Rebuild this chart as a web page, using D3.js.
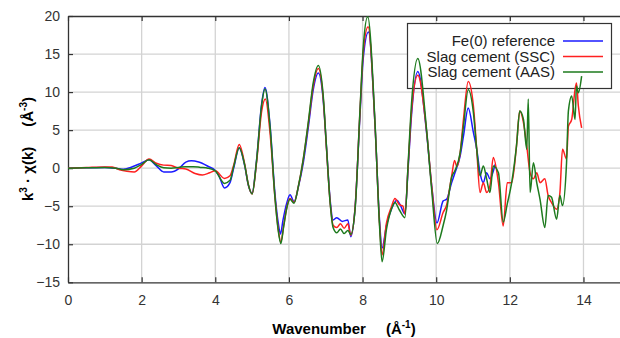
<!DOCTYPE html>
<html>
<head>
<meta charset="utf-8">
<script src="https://cdn.jsdelivr.net/npm/d3@7"></script>
<style>
  html, body { margin: 0; padding: 0; background: #fff; }
  svg { display: block; font-family: 'Liberation Sans', Arial, sans-serif; }
</style>
</head>
<body>
<div id="chart"></div>
<script>
// EXAFS k^3-weighted spectra
const feK = [0, 0.5, 1.0, 1.3, 1.5, 1.7, 2.0, 2.2, 2.4, 2.6, 2.8, 3.0, 3.2, 3.35, 3.55, 3.8, 4.0, 4.1, 4.25, 4.4, 4.5, 4.65, 4.8, 4.9, 5.0, 5.12, 5.26, 5.35, 5.49, 5.62, 5.71, 5.77, 5.84, 5.94, 6.03, 6.14, 6.26, 6.39, 6.53, 6.66, 6.8, 6.93, 7.02, 7.12, 7.2, 7.3, 7.45, 7.6, 7.68, 7.8, 7.93, 8.02, 8.16, 8.34, 8.46, 8.53, 8.65, 8.79, 8.93, 9.02, 9.15, 9.24, 9.33, 9.5, 9.74, 9.88, 10.02, 10.19, 10.28, 10.42, 10.51, 10.65, 10.74, 10.87, 11.01, 11.1, 11.19, 11.28, 11.37, 11.46, 11.6]
const feV = [0, 0.05, 0.08, -0.02, -0.15, 0.1, 0.7, 1.1, 0.3, -0.5, -0.5, -0.1, 0.8, 0.97, 0.8, 0.25, -0.3, -1.0, -2.6, -1.9, 0.0, 2.7, 0.3, -2.3, -3.3, 1.0, 8.5, 10.6, 5.5, -3.3, -7.2, -8.65, -6.8, -4.6, -3.5, -4.4, -2.4, 0.7, 5.5, 10.3, 12.5, 9.0, 2.8, -4.2, -6.8, -6.5, -7.0, -6.8, -9.0, -5.0, 7.0, 14.5, 17.9, 5.5, -6.8, -10.5, -7.5, -5.3, -4.2, -4.8, -6.0, 0.2, 7.0, 12.7, 4.6, -2.4, -7.2, -4.3, -4.1, -1.9, -0.6, 1.6, 4.2, 7.9, 4.7, 2.5, -0.6, -1.9, -0.6, -1.4, 0.5]

const sscK = [0, 0.5, 1.0, 1.2, 1.4, 1.6, 1.8, 2.0, 2.2, 2.4, 2.6, 2.8, 3.0, 3.2, 3.45, 3.65, 3.85, 4.0, 4.25, 4.4, 4.5, 4.65, 4.8, 4.9, 5.0, 5.12, 5.26, 5.36, 5.49, 5.62, 5.71, 5.78, 5.86, 5.94, 6.03, 6.14, 6.26, 6.39, 6.53, 6.66, 6.8, 6.93, 7.02, 7.12, 7.2, 7.3, 7.4, 7.5, 7.6, 7.68, 7.8, 7.93, 8.02, 8.15, 8.34, 8.46, 8.53, 8.65, 8.79, 8.88, 9.0, 9.1, 9.15, 9.24, 9.33, 9.5, 9.74, 9.88, 10.02, 10.19, 10.28, 10.42, 10.5, 10.56, 10.65, 10.74, 10.87, 11.01, 11.1, 11.19, 11.28, 11.37, 11.46, 11.55, 11.69, 11.82, 11.93, 12.05, 12.18, 12.27, 12.37, 12.46, 12.55, 12.64, 12.73, 12.82, 12.95, 13.04, 13.13, 13.27, 13.36, 13.43, 13.54, 13.59, 13.68, 13.77, 13.81, 13.86, 13.95]
const sscV = [0, 0.08, 0.15, 0.15, -0.2, -0.4, -0.5, 0.3, 1.2, 0.65, 0.4, 0.35, 0.0, -0.1, -0.7, -0.9, -0.6, -0.35, -1.35, -1.0, 0.4, 3.1, 0.5, -2.2, -3.4, 0.7, 7.5, 9.1, 4.5, -3.8, -8.0, -9.7, -7.5, -5.2, -4.0, -4.5, -2.3, 1.2, 6.0, 10.8, 13.1, 9.3, 2.6, -4.5, -7.5, -7.8, -7.3, -7.9, -7.3, -8.8, -5.0, 7.4, 15.3, 18.6, 5.5, -7.2, -11.4, -7.2, -5.0, -4.0, -4.8, -5.0, -6.0, 0.5, 7.5, 12.2, 4.8, -2.5, -8.1, -5.8, -4.9, -1.0, 1.0, 0.2, 2.0, 6.4, 11.4, 8.2, 2.5, -3.2, -1.9, -3.2, -2.3, 1.4, -1.9, -7.6, -1.9, -1.9, 2.9, 7.5, 6.0, 2.9, -0.6, -1.4, -0.6, -1.9, -1.4, -3.6, -4.5, -5.4, -3.2, 2.5, 1.2, 5.5, 6.4, 10.3, 11.2, 8.2, 5.3]

const aasK = [0, 0.5, 1.0, 1.3, 1.5, 1.8, 2.0, 2.2, 2.4, 2.6, 2.8, 3.0, 3.2, 3.4, 3.6, 3.8, 4.0, 4.25, 4.4, 4.5, 4.65, 4.8, 4.9, 5.0, 5.12, 5.26, 5.35, 5.49, 5.62, 5.71, 5.78, 5.86, 5.94, 6.03, 6.14, 6.26, 6.39, 6.53, 6.66, 6.8, 6.93, 7.02, 7.12, 7.2, 7.3, 7.4, 7.5, 7.6, 7.68, 7.8, 7.93, 8.02, 8.14, 8.34, 8.46, 8.53, 8.65, 8.79, 8.88, 9.0, 9.15, 9.24, 9.33, 9.5, 9.74, 9.88, 10.03, 10.19, 10.28, 10.42, 10.51, 10.65, 10.74, 10.87, 11.01, 11.1, 11.19, 11.28, 11.37, 11.46, 11.55, 11.69, 11.82, 11.93, 12.05, 12.18, 12.27, 12.37, 12.46, 12.5, 12.55, 12.64, 12.73, 12.82, 12.95, 13.04, 13.13, 13.27, 13.36, 13.43, 13.54, 13.59, 13.68, 13.77, 13.81, 13.86, 13.95]
const aasV = [0, 0.05, 0.1, 0.0, -0.2, 0.0, 0.5, 1.1, 0.45, 0.05, 0.0, 0.1, 0.2, 0.2, 0.1, 0.0, -0.35, -2.0, -1.6, 0.2, 2.7, 0.4, -2.2, -3.4, 0.9, 8.3, 10.4, 5.3, -3.8, -8.2, -9.9, -7.6, -5.3, -4.1, -4.6, -2.3, 1.2, 6.2, 11.2, 13.5, 9.6, 2.8, -4.6, -7.8, -8.5, -8.0, -8.6, -8.2, -8.7, -5.2, 7.6, 16.0, 19.9, 5.8, -7.5, -12.3, -8.0, -5.3, -4.5, -5.5, -6.5, 0.8, 8.5, 14.4, 5.0, -3.0, -9.9, -7.5, -5.6, -1.2, -0.3, 2.0, 5.5, 10.3, 7.3, 2.5, -1.0, 0.3, -1.4, -3.2, 0.3, -0.6, -7.1, -4.7, -1.9, 2.9, 7.5, 6.4, 2.5, 9.1, -3.2, 0.7, -1.9, -4.1, -7.8, -3.6, -3.8, -6.7, -3.6, -4.9, 0.7, 7.5, 9.5, 6.4, 10.8, 9.9, 12.1]

const seriesNames = ['Fe(0) reference', 'Slag cement (SSC)', 'Slag cement (AAS)']
const seriesColors = ['#1a1aff', '#ff2020', '#1d7a1d']
const xTicks = [0, 2, 4, 6, 8, 10, 12, 14]
const yTicks = [-15, -10, -5, 0, 5, 10, 15, 20]

const WIDTH = 620
const HEIGHT = 338
const LEFT = 68
const TOP = 16
const BOTTOM = 282.3
const PX_PER_K = 36.82

// x runs to 16, past the right edge of the picture
const x = d3.scaleLinear().domain([0, 16]).range([LEFT, LEFT + 16 * PX_PER_K])
const y = d3.scaleLinear().domain([-15, 20]).range([BOTTOM, TOP])

const svg = d3.select('#chart').append('svg')
  .attr('width', WIDTH)
  .attr('height', HEIGHT)

// grid
const grid = svg.append('g').attr('stroke', '#d3d3d3').attr('stroke-width', 1.3)
grid.selectAll('line.gx')
  .data(xTicks.filter((d) => d > 0))
  .enter().append('line')
  .attr('x1', (d) => x(d)).attr('x2', (d) => x(d))
  .attr('y1', TOP).attr('y2', BOTTOM)
grid.selectAll('line.gy')
  .data(yTicks.filter((d) => d > -15 && d < 20))
  .enter().append('line')
  .attr('x1', LEFT).attr('x2', x(16))
  .attr('y1', (d) => y(d)).attr('y2', (d) => y(d))

// axes, ticks pointing inward
const axisColor = '#333'
const styleAxis = (g) => {
  g.select('.domain').attr('stroke', axisColor).attr('stroke-width', 1.3)
  g.selectAll('.tick line').attr('stroke', axisColor).attr('stroke-width', 1.2)
  g.selectAll('.tick text').attr('fill', '#333').attr('font-size', 14)
    .attr('font-family', "'Liberation Sans', Arial, sans-serif")
}

svg.append('g')
  .attr('transform', `translate(0,${BOTTOM})`)
  .call(d3.axisBottom(x).tickValues(xTicks).tickFormat(d3.format('d'))
    .tickSize(-5).tickSizeOuter(0).tickPadding(13))
  .call(styleAxis)

svg.append('g')
  .attr('transform', `translate(0,${TOP})`)
  .call(d3.axisTop(x).tickValues(xTicks).tickFormat('')
    .tickSize(-5).tickSizeOuter(0))
  .call(styleAxis)

svg.append('g')
  .attr('transform', `translate(${LEFT},0)`)
  .call(d3.axisLeft(y).tickValues(yTicks).tickFormat(d3.format('d'))
    .tickSize(-5).tickSizeOuter(0).tickPadding(8))
  .call(styleAxis)

// axis titles
const xTitle = svg.append('text')
  .attr('x', 344).attr('y', 334)
  .attr('text-anchor', 'middle')
  .attr('font-size', 15).attr('font-weight', 'bold')
  .attr('fill', '#000')
xTitle.append('tspan').text('Wavenumber')
xTitle.append('tspan').attr('dx', 20).text('(Å')
xTitle.append('tspan').attr('dy', -6).attr('font-size', 10).text('-1')
xTitle.append('tspan').attr('dy', 6).text(')')

const yTitle = svg.append('text')
  .attr('transform', 'translate(33,149) rotate(-90)')
  .attr('text-anchor', 'middle')
  .attr('font-size', 15).attr('font-weight', 'bold')
  .attr('fill', '#000')
yTitle.append('tspan').text('k')
yTitle.append('tspan').attr('dy', -6).attr('font-size', 10).text('3')
yTitle.append('tspan').attr('dy', 6).text(' · χ(k)')
yTitle.append('tspan').attr('dx', 20).text('(Å')
yTitle.append('tspan').attr('dy', -6).attr('font-size', 10).text('-3')
yTitle.append('tspan').attr('dy', 6).text(')')

// legend (curves are drawn over it)
const legend = svg.append('g')
legend.append('rect')
  .attr('x', 407.5).attr('y', 23.5)
  .attr('width', 204).attr('height', 65)
  .attr('fill', '#fff').attr('stroke', '#333').attr('stroke-width', 1.2)
const rows = legend.selectAll('g.row')
  .data(seriesNames)
  .enter().append('g')
  .attr('transform', (d, i) => `translate(0,${41 + i * 15.5})`)
rows.append('text')
  .attr('x', 555).attr('dy', '0.35em')
  .attr('text-anchor', 'end')
  .attr('font-size', 15).attr('fill', '#222')
  .text((d) => d)
rows.append('line')
  .attr('x1', 563).attr('x2', 603)
  .attr('stroke', (d, i) => seriesColors[i])
  .attr('stroke-width', 1.5)

// curves
const series = [
  { k: feK, v: feV },
  { k: sscK, v: sscV },
  { k: aasK, v: aasV },
]

const line = d3.line()
  .x((d) => x(d[0]))
  .y((d) => y(d[1]))
  .curve(d3.curveMonotoneX)

svg.append('g')
  .selectAll('path')
  .data(series)
  .enter().append('path')
  .attr('fill', 'none')
  .attr('stroke', (d, i) => seriesColors[i])
  .attr('stroke-width', 1.5)
  .attr('stroke-linejoin', 'round')
  .attr('d', (d) => line(d.k.map((k, j) => [k, d.v[j]])))
</script>
</body>
</html>
